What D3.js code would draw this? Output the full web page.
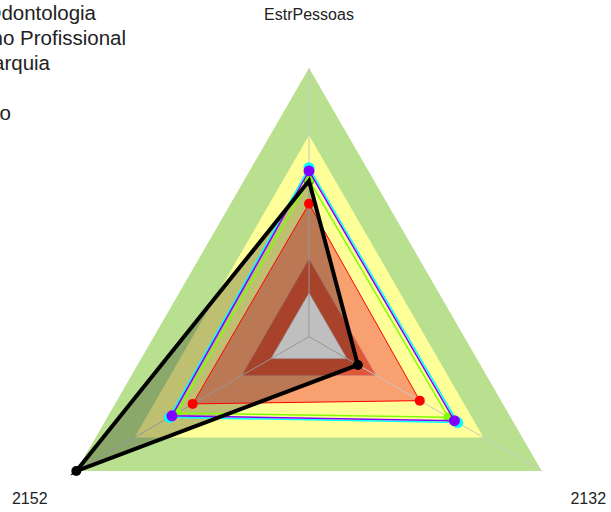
<html>
<head>
<meta charset="utf-8" />
<title>Radar</title>
<script src="https://d3js.org/d3.v7.min.js"></script>
<style>
  body { margin: 0; background: #fff; }
  text { font-family: "Liberation Sans", Arial, sans-serif; fill: #222; }
</style>
</head>
<body>
<svg width="611" height="512" id="svg1"></svg>
<script>
// axes clockwise from the top
var axes = ["EstrPessoas", "2132", "2152"];

// background zones (outer radius as share of max)
var zoneLevels = [1.0, 0.75, 0.29, 0.164];
var zoneColors = ["#b8e08e", "#ffff99", "#e0583a", "#ffffff"];

// series values, same order as axes
var serieRed    = [0.495, 0.476, 0.500];
var serieGreen  = [0.583, 0.599, 0.568];
var serieCyan   = [0.629, 0.639, 0.600];
var seriePurple = [0.617, 0.625, 0.589];
var serieBlack  = [0.580, 0.210, 1.000];

var legendNames = ["Odontologia", "Ensino Profissional", "Hierarquia", "", "Resultado"];

var svg = d3.select("#svg1");
var cx = 309, cy = 336.7;
var r = d3.scaleLinear().domain([0, 1]).range([0, 268.7]);
var angle = d3.scaleLinear().domain([0, axes.length]).range([0, 2 * Math.PI]);

var radial = d3.lineRadial()
  .angle(function(d, i) { return angle(i); })
  .radius(function(d) { return r(d); })
  .curve(d3.curveLinearClosed);

var g = svg.append("g").attr("transform", "translate(" + cx + "," + cy + ")");

function pt(v, i) {
  var a = angle(i);
  return [r(v) * Math.sin(a), -r(v) * Math.cos(a)];
}

// outer zones green + yellow
g.selectAll("path.zoneOut")
  .data(zoneLevels.slice(0, 2))
  .enter().append("path")
  .attr("class", "zoneOut")
  .attr("d", function(l) { return radial(axes.map(function() { return l; })); })
  .attr("fill", function(l, i) { return zoneColors[i]; });

// red series fill (salmon)
g.append("path").attr("d", radial(serieRed)).attr("fill", "#f9a070");

// inner zones
g.selectAll("path.zoneIn")
  .data(zoneLevels.slice(2))
  .enter().append("path")
  .attr("class", "zoneIn")
  .attr("d", function(l) { return radial(axes.map(function() { return l; })); })
  .attr("fill", function(l, i) { return zoneColors[i + 2]; })
  .attr("stroke", "#c8a0a0").attr("stroke-width", 0.6);

// axis spokes
g.selectAll("line.spoke")
  .data(axes)
  .enter().append("line")
  .attr("x1", 0).attr("y1", 0)
  .attr("x2", function(d, i) { return pt(1, i)[0]; })
  .attr("y2", function(d, i) { return pt(1, i)[1]; })
  .attr("stroke", "#c8c8c8").attr("stroke-width", 1);

// black series shading
g.append("path").attr("d", radial(serieBlack)).attr("fill", "rgba(0,0,0,0.25)");

function dots(s) {
  g.selectAll(null).data(s.v).enter().append("circle")
    .attr("cx", function(d, i) { return pt(d, i)[0]; })
    .attr("cy", function(d, i) { return pt(d, i)[1]; })
    .attr("r", s.m).attr("fill", s.c);
}
function outline(s) {
  g.append("path").attr("d", radial(s.v))
    .attr("fill", "none").attr("stroke", s.c).attr("stroke-width", s.w);
}

var black = { v: serieBlack, c: "#000000", w: 4, m: 5 };
var series = [
  { v: serieRed,    c: "#ff0000", w: 1,   m: 5 },
  { v: serieGreen,  c: "#80ff00", w: 1.5, m: 5 },
  { v: serieCyan,   c: "#00ffff", w: 1.5, m: 5.5 },
  { v: seriePurple, c: "#8000ff", w: 1.5, m: 5.5 }
];

dots(black);
series.forEach(function(s) { outline(s); dots(s); });
outline(black);

// axis labels
g.selectAll("text.axis")
  .data(axes)
  .enter().append("text")
  .attr("x", function(d, i) { return pt(1.2, i)[0]; })
  .attr("y", function(d, i) { return pt(1.2, i)[1] + 2; })
  .attr("text-anchor", "middle")
  .attr("dominant-baseline", "middle")
  .style("font-size", "16px")
  .text(function(d) { return d; });

// legend, partly cut off at the left edge
var legendRight = [96, 126, 50, 0, 11];
svg.selectAll("text.legend")
  .data(legendNames)
  .enter().append("text")
  .attr("x", function(d, i) { return legendRight[i]; })
  .attr("y", function(d, i) { return 20 + i * 25; })
  .attr("text-anchor", "end")
  .style("font-size", "20.5px")
  .text(function(d) { return d; });
</script>
</body>
</html>
